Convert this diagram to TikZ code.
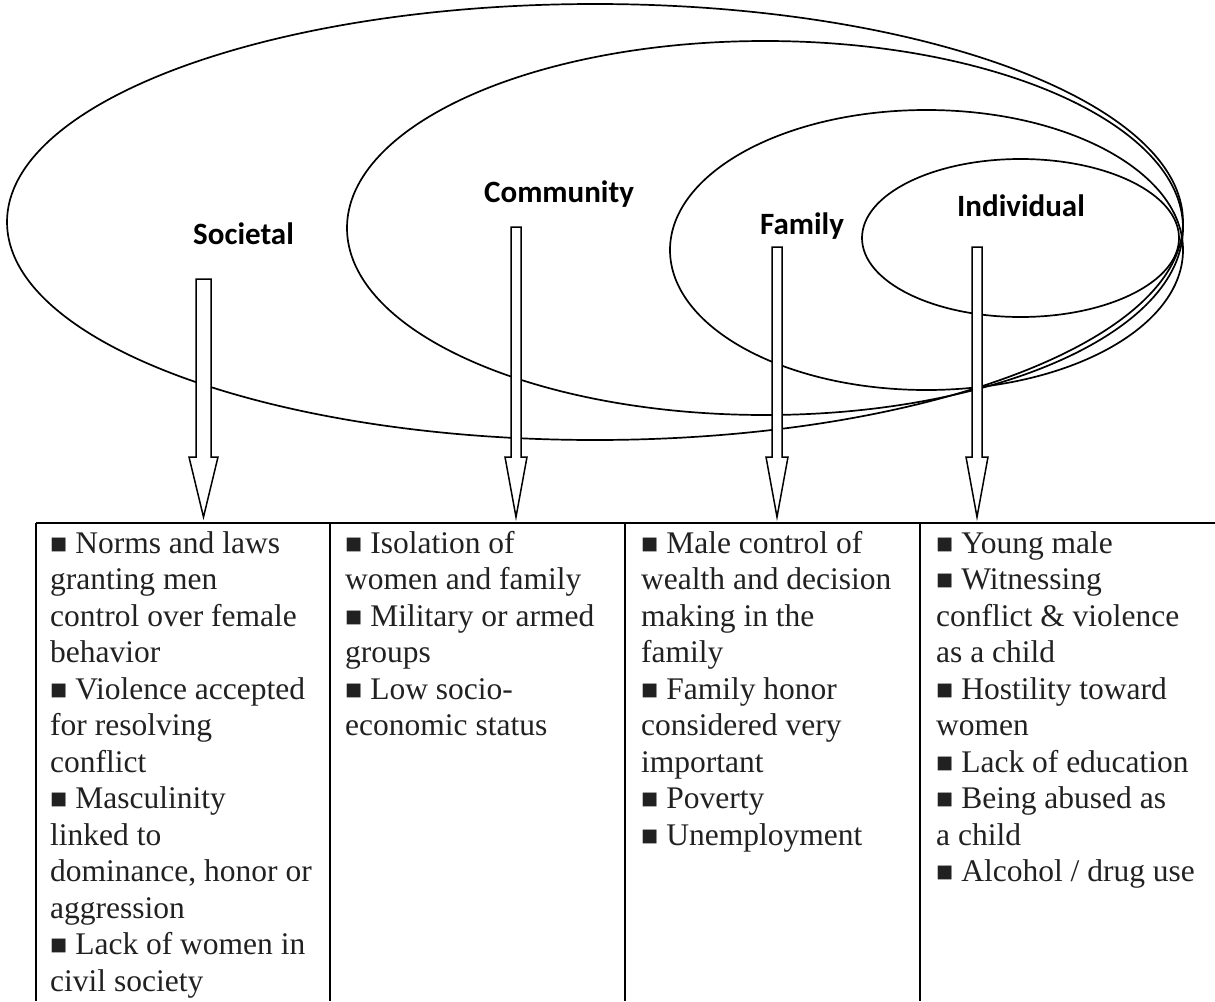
\documentclass[tikz,border=0pt]{standalone}
\usepackage{fontspec}
\setmainfont{Liberation Serif}
\newfontfamily\lblfont{Carlito}
\newcommand\sqb{{\fontsize{28.5}{28.5}\selectfont ■}}
\newcommand\bkarrow[6]{% cx, top, headstart, tip, shaft half, head half
  \draw[blockarrow] ({#1-#5},#2) -- ({#1+#5},#2) -- ({#1+#5},#3) -- ({#1+#6},#3)
    -- (#1,#4) -- ({#1-#6},#3) -- ({#1-#5},#3) -- cycle;}
\newcommand\celltext[1]{\fontsize{31.5}{36.5}\selectfont\begin{tabular}[t]{@{}l@{}}#1\end{tabular}}
\begin{document}
\begin{tikzpicture}[x=1pt,y=-1pt,
  ring/.style={draw, line width=1.7pt},
  lbl/.style={font=\lblfont\bfseries\fontsize{31}{31}\selectfont, anchor=base west, inner sep=0},
  cell/.style={anchor=base west, inner sep=0, text=black!87},
  blockarrow/.style={draw, line width=1.5pt, fill=white},
  gridline/.style={line width=2.6pt}]
\useasboundingbox (0,0) rectangle (1215,1001);
% ellipses
\draw[ring] (595,222) ellipse [x radius=588, y radius=218];
\draw[ring] (765,228) ellipse [x radius=418, y radius=187];
\draw[ring] (926.5,250) ellipse [x radius=256.5, y radius=140];
\draw[ring] (1020.5,238) ellipse [x radius=158.5, y radius=79];
% labels
\node[lbl] (soc) at (193,244) {Societal};
\node[lbl] (com) at (484,202) {Community};
\node[lbl] (fam) at (760,234) {Family};
\node[lbl] (ind) at (957,216) {Individual};
% arrows
\bkarrow{203.5}{279}{457}{517}{7.5}{14.5}
\bkarrow{516}{227}{457}{517}{5}{11}
\bkarrow{777}{247}{457}{517}{5}{11}
\bkarrow{977}{247}{457}{517}{5}{11}
% table
\draw[gridline] (36,523) -- (1215,523);
\draw[gridline] (36,523) -- (36,1001);
\draw[gridline] (330,523) -- (330,1001);
\draw[gridline] (625,523) -- (625,1001);
\draw[gridline] (920,523) -- (920,1001);
% cells
\node[cell] (c1) at (50,553) {\celltext{\sqb\ Norms and laws\\granting men\\control over female\\behavior\\\sqb\ Violence accepted\\for resolving\\conflict\\\sqb\ Masculinity\\linked to\\dominance, honor or\\aggression\\\sqb\ Lack of women in\\civil society}};
\node[cell] (c2) at (345,553) {\celltext{\sqb\ Isolation of\\women and family\\\sqb\ Military or armed\\groups\\\sqb\ Low socio-\\economic status}};
\node[cell] (c3) at (641,553) {\celltext{\sqb\ Male control of\\wealth and decision\\making in the\\family\\\sqb\ Family honor\\considered very\\important\\\sqb\ Poverty\\\sqb\ Unemployment}};
\node[cell] (c4) at (936,553) {\celltext{\sqb\ Young male\\\sqb\ Witnessing\\conflict \& violence\\as a child\\\sqb\ Hostility toward\\women\\\sqb\ Lack of education\\\sqb\ Being abused as\\a child\\\sqb\ Alcohol / drug use}};
\end{tikzpicture}
\end{document}
